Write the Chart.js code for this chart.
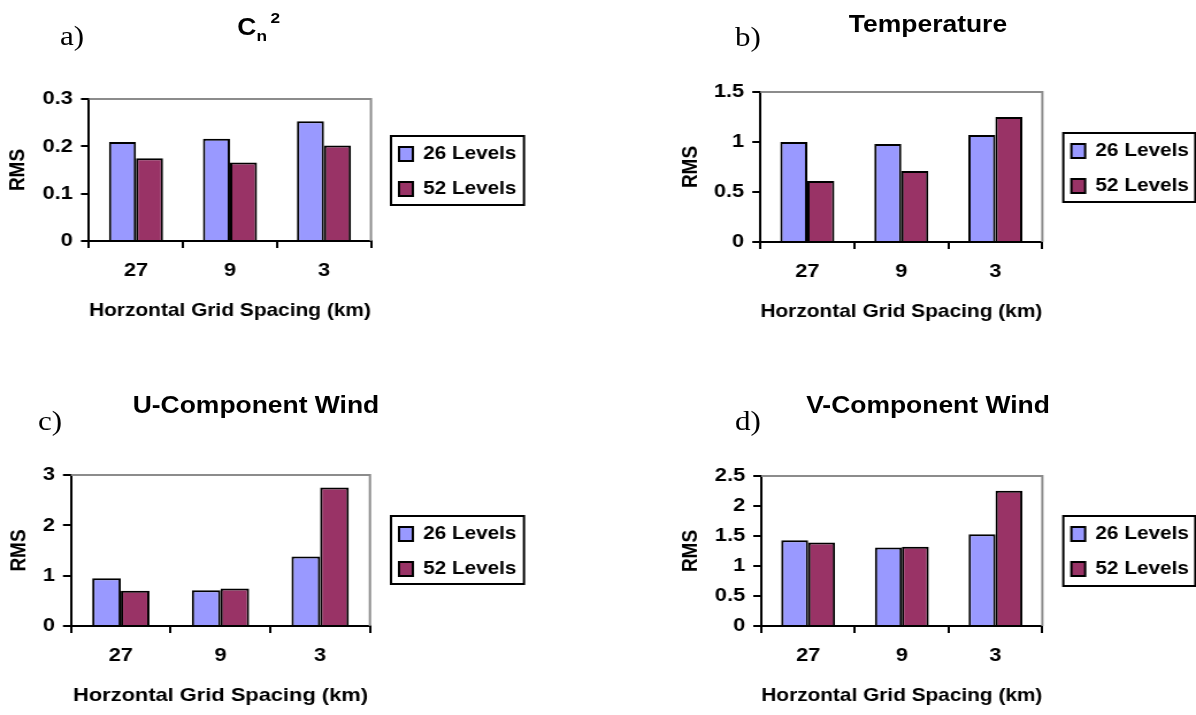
<!DOCTYPE html>
<html>
<head>
<meta charset="utf-8">
<script src="https://cdn.jsdelivr.net/npm/chart.js@4.4.1/dist/chart.umd.min.js"></script>
<style>
  html, body { margin: 0; padding: 0; background: #fff; overflow: hidden; }
  #page { position: absolute; left: 0; top: 0; height: 715px; transform-origin: 0 0; }
  .box { position: absolute; }
  .ttl { position: absolute; font: bold 23px 'Liberation Sans', Arial, sans-serif; line-height: 1; white-space: nowrap; color: #000; transform: translateX(-50%); }
  .tag { position: absolute; font: 27px 'Liberation Serif', 'Times New Roman', serif; line-height: 1; color: #000; }
</style>
</head>
<body>
<div id="page"></div>
<script>
var categories = ['27', '9', '3'];
var seriesNames = ['26 Levels', '52 Levels'];

var cn2_26 = [0.209, 0.216, 0.253];
var cn2_52 = [0.175, 0.166, 0.202];
var temp_26 = [1.00, 0.98, 1.07];
var temp_52 = [0.61, 0.71, 1.25];
var u_26 = [0.95, 0.71, 1.38];
var u_52 = [0.70, 0.745, 2.75];
var v_26 = [1.43, 1.31, 1.53];
var v_52 = [1.39, 1.32, 2.255];

var yMax = [0.3, 1.5, 3, 2.5];
var yStep = [0.1, 0.5, 1, 0.5];

var xTitle = 'Horzontal Grid Spacing (km)';
var yTitle = 'RMS';

// the original figure is a bit wider than tall fonts would give, stretch it
var S = 1.15;
var page = document.getElementById('page');
page.style.width = (1196 / S) + 'px';
page.style.transform = 'scaleX(' + S + ')';

function px(v) { return (v / S) + 'px'; }

// layout in screen px: plot box [l, t, r, b], RMS label x, legend frame [l, t, r, b]
var panels = [
  { values: [cn2_26, cn2_52], x0: 0, w: 580, plot: [89, 99, 371, 241], rms: 18, legend: [391, 136, 524, 205] },
  { values: [temp_26, temp_52], x0: 600, w: 596, plot: [760, 92, 1042, 242], rms: 691, legend: [1063, 133, 1195, 202] },
  { values: [u_26, u_52], x0: 0, w: 580, plot: [71, 475, 370, 626], rms: 19, legend: [391, 516, 524, 584] },
  { values: [v_26, v_52], x0: 600, w: 596, plot: [761, 476, 1042, 626], rms: 691, legend: [1063, 516, 1195, 586] }
];

var frameLines = {
  id: 'frameLines',
  beforeDatasetsDraw: function (chart) {
    var a = chart.chartArea, ctx = chart.ctx;
    ctx.save();
    ctx.strokeStyle = '#8c8c8c';
    ctx.lineWidth = 2;
    ctx.beginPath();
    ctx.moveTo(a.left, a.top);
    ctx.lineTo(a.right, a.top);
    ctx.lineTo(a.right, a.bottom);
    ctx.stroke();
    ctx.restore();
  }
};

// move the legend out of the plot and put a frame round it
var legendFrame = {
  id: 'legendFrame',
  beforeDraw: function (chart, args, o) {
    var l = chart.legend;
    l.left = o.x - 10;
    l.top = o.y - 8;
    l.right = o.x + o.w;
    l.bottom = o.y + o.h + 80;
  },
  afterDraw: function (chart, args, o) {
    var ctx = chart.ctx;
    ctx.save();
    ctx.strokeStyle = '#000';
    ctx.lineWidth = 2;
    ctx.strokeRect(o.x, o.y, o.w, o.h);
    ctx.restore();
  }
};

Chart.defaults.font.family = "'Liberation Sans', Arial, sans-serif";
Chart.defaults.color = '#000';

panels.forEach(function (p, i) {
  var top = p.plot[1] - 20, bottom = p.plot[3] + 90;
  var box = document.createElement('div');
  box.className = 'box';
  box.style.left = px(p.x0);
  box.style.top = top + 'px';
  box.style.width = px(p.w);
  box.style.height = (bottom - top) + 'px';
  var cv = document.createElement('canvas');
  box.appendChild(cv);
  page.appendChild(box);

  var yW = (p.plot[0] - p.x0) / S;
  var padR = (p.x0 + p.w - p.plot[2]) / S;
  var lg = {
    x: (p.legend[0] - p.x0) / S,
    y: p.legend[1] - top,
    w: (p.legend[2] - p.legend[0]) / S,
    h: p.legend[3] - p.legend[1]
  };

  new Chart(cv, {
    type: 'bar',
    data: {
      labels: categories,
      datasets: [
        { label: seriesNames[0], data: p.values[0], backgroundColor: '#9999ff', borderColor: '#000', borderWidth: 2 },
        { label: seriesNames[1], data: p.values[1], backgroundColor: '#993366', borderColor: '#000', borderWidth: 2 }
      ]
    },
    options: {
      responsive: true,
      maintainAspectRatio: false,
      animation: false,
      layout: { padding: { left: 0, top: 20, right: padR, bottom: 0 } },
      datasets: { bar: { categoryPercentage: 0.575, barPercentage: 1 } },
      plugins: {
        legend: {
          position: 'chartArea',
          align: 'start',
          labels: { boxWidth: 12, boxHeight: 14, padding: 17, color: '#000', font: { size: 18, weight: 'bold' } }
        },
        tooltip: { enabled: false },
        legendFrame: lg
      },
      scales: {
        x: {
          grid: { offset: true, drawOnChartArea: false, tickLength: 7, color: '#000', lineWidth: 2 },
          border: { color: '#000', width: 2 },
          ticks: { color: '#000', padding: 11, font: { size: 19, weight: 'bold' } },
          title: { display: true, text: xTitle, color: '#000', font: { size: 19, weight: 'bold' }, padding: { top: 0, bottom: 9 } },
          afterFit: function (s) { s.height = 90; }
        },
        y: {
          min: 0,
          max: yMax[i],
          ticks: {
            stepSize: yStep[i], color: '#000', padding: 7, font: { size: 19, weight: 'bold' },
            callback: function (v) { return String(Math.round(v * 100) / 100); }
          },
          grid: { drawOnChartArea: false, tickLength: 7, color: '#000', lineWidth: 2 },
          border: { color: '#000', width: 2 },
          title: { display: true, text: yTitle, color: '#000', font: { size: 19, weight: 'bold' }, padding: { top: (p.rms - p.x0) / S - 11.4, bottom: 0 } },
          afterFit: function (s) { s.width = yW; }
        }
      }
    },
    plugins: [frameLines, legendFrame]
  });
});

// panel titles and letters
function addText(cls, html, x, y) {
  var d = document.createElement('div');
  d.className = cls;
  d.innerHTML = html;
  d.style.left = px(x);
  d.style.top = y + 'px';
  page.appendChild(d);
}
addText('ttl', 'C<span style="font-size:15px;position:relative;top:6px">n</span><span style="font-size:15px;position:relative;top:-12px;left:3px">2</span>', 257, 16);
addText('ttl', 'Temperature', 928, 13);
addText('ttl', 'U-Component Wind', 256, 394);
addText('ttl', 'V-Component Wind', 928, 394);
addText('tag', 'a)', 60, 23);
addText('tag', 'b)', 735, 24);
addText('tag', 'c)', 38, 408);
addText('tag', 'd)', 735, 408);
</script>
</body>
</html>
